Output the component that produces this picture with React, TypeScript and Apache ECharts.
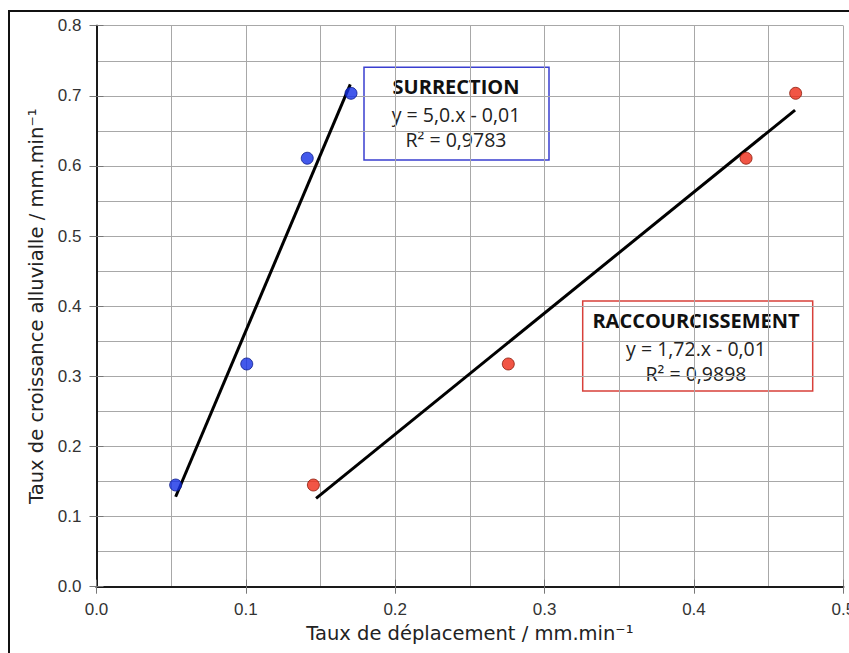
import React, { useEffect, useRef } from "react";
import * as echarts from "echarts";

const xTickLabels = ["0.0", "0.1", "0.2", "0.3", "0.4", "0.5"];
const yTickLabels = ["0.0", "0.1", "0.2", "0.3", "0.4", "0.5", "0.6", "0.7", "0.8"];

const surrectionX = [0.053, 0.1006, 0.1411, 0.1704];
const surrectionY = [0.145, 0.3176, 0.611, 0.7036];
const surrectionFitX = [0.053, 0.1699];
const surrectionFitY = [0.1283, 0.7164];

const raccourX = [0.1452, 0.2757, 0.4349, 0.4681];
const raccourY = [0.145, 0.3176, 0.611, 0.7036];
const raccourFitX = [0.147, 0.4677];
const raccourFitY = [0.126, 0.6797];

const surrectionText = ["SURRECTION", "y = 5,0.x - 0,01", "R² = 0,9783"];
const raccourText = ["RACCOURCISSEMENT", "y = 1,72.x - 0,01", "R² = 0,9898"];

const xTitle = "Taux de déplacement / mm.min⁻¹";
const yTitle = "Taux de croissance alluvialle / mm.min⁻¹";

const zip = (a: number[], b: number[]) => a.map((v, i) => [v, b[i]]);

export default function App() {
  const ref = useRef<HTMLDivElement>(null);
  useEffect(() => {
    if (!ref.current) return;
    const chart = echarts.init(ref.current, null, { renderer: "svg" });
    const tickFont = "Liberation Sans, Arial, sans-serif";
    const titleFont = "DejaVu Sans, sans-serif";
    const boxFont = "Open Sans, sans-serif";
    const gridLine = { color: "#a8a8a8", width: 1 };
    const frame = { color: "#1a1a1a", width: 2 };
    const baseX = {
      type: "value",
      min: 0,
      max: 0.5,
      interval: 0.1,
    };
    const baseY = {
      type: "value",
      min: 0,
      max: 0.8,
      interval: 0.1,
    };
    const makeBox = (
      x: number,
      y: number,
      w: number,
      h: number,
      color: string,
      lines: string[],
      cx: number
    ) => ({
      type: "group",
      z: 100,
      children: [
        {
          type: "rect",
          shape: { x, y, width: w, height: h },
          style: { fill: "#fff", stroke: color, lineWidth: 1.5 },
        },
        {
          type: "text",
          x: cx,
          y: y + 19,
          style: {
            text: lines[0],
            font: "bold 20px " + boxFont,
            fill: "#111",
            align: "center",
            verticalAlign: "middle",
          },
        },
        {
          type: "text",
          x: cx,
          y: y + 47,
          style: {
            text: lines[1],
            font: "19.5px " + boxFont,
            fill: "#222",
            align: "center",
            verticalAlign: "middle",
          },
        },
        {
          type: "text",
          x: cx,
          y: y + 72,
          style: {
            text: lines[2],
            font: "19.5px " + boxFont,
            fill: "#222",
            align: "center",
            verticalAlign: "middle",
          },
        },
      ],
    });
    chart.setOption({
      animation: false,
      backgroundColor: "#fff",
      grid: {
        left: 96.5,
        top: 25.7,
        width: 746.8,
        height: 561,
        containLabel: false,
        outerBoundsMode: "none",
      },
      xAxis: [
        {
          ...baseX,
          position: "bottom",
          name: xTitle,
          nameLocation: "middle",
          nameGap: 37,
          nameTextStyle: { fontFamily: titleFont, fontSize: 19.5, color: "#222" },
          axisLine: { show: true, lineStyle: frame },
          axisTick: { show: true, inside: false, length: 7, lineStyle: { color: "#777" } },
          axisLabel: {
            show: true,
            margin: 14,
            fontFamily: tickFont,
            fontSize: 17,
            color: "#333",
            formatter: (v: number) => xTickLabels[Math.round(v * 10)],
          },
          splitLine: { show: true, lineStyle: gridLine },
          minorTick: { show: false, splitNumber: 2 },
          minorSplitLine: { show: true, lineStyle: gridLine },
        },
        {
          ...baseX,
          position: "top",
          axisLine: { show: true, lineStyle: frame },
          axisTick: { show: true, inside: false, length: 7, lineStyle: { color: "#777" } },
          axisLabel: { show: false },
          splitLine: { show: false },
        },
      ],
      yAxis: [
        {
          ...baseY,
          position: "left",
          name: yTitle,
          nameLocation: "middle",
          nameGap: 50,
          nameTextStyle: { fontFamily: titleFont, fontSize: 19.5, color: "#222" },
          axisLine: { show: true, lineStyle: frame },
          axisTick: { show: true, inside: false, length: 7, lineStyle: { color: "#777" } },
          axisLabel: {
            show: true,
            margin: 15,
            fontFamily: tickFont,
            fontSize: 17,
            color: "#333",
            formatter: (v: number) => yTickLabels[Math.round(v * 10)],
          },
          splitLine: { show: true, lineStyle: gridLine },
          minorTick: { show: false, splitNumber: 2 },
          minorSplitLine: { show: true, lineStyle: gridLine },
        },
        {
          ...baseY,
          position: "right",
          axisLine: { show: true, lineStyle: frame },
          axisTick: { show: true, inside: false, length: 7, lineStyle: { color: "#777" } },
          axisLabel: { show: false },
          splitLine: { show: false },
        },
      ],
      series: [
        {
          type: "line",
          data: zip(surrectionFitX, surrectionFitY),
          symbol: "none",
          lineStyle: { color: "#000", width: 3 },
          z: 3,
        },
        {
          type: "line",
          data: zip(raccourFitX, raccourFitY),
          symbol: "none",
          lineStyle: { color: "#000", width: 3 },
          z: 3,
        },
        {
          type: "scatter",
          data: zip(surrectionX, surrectionY),
          symbol: "circle",
          symbolSize: 12,
          itemStyle: { color: "#1430e6", borderColor: "#0a1a8a", borderWidth: 1 },
          z: 5,
        },
        {
          type: "scatter",
          data: zip(raccourX, raccourY),
          symbol: "circle",
          symbolSize: 12,
          itemStyle: { color: "#ee2a16", borderColor: "#8a1a0a", borderWidth: 1 },
          z: 5,
        },
      ],
      graphic: [
        {
          type: "rect",
          z: -10,
          silent: true,
          shape: { x: 9, y: 11, width: 900, height: 700 },
          style: { fill: "none", stroke: "#111", lineWidth: 2 },
        },
        makeBox(364, 67.3, 185, 92.7, "#3a3fd0", surrectionText, 456),
        makeBox(582.7, 301, 230, 90, "#d8403a", raccourText, 696),
      ],
    });
    return () => chart.dispose();
  }, []);
  return (
    <div
      ref={ref}
      style={{ position: "fixed", left: 0, top: 0, width: 849, height: 653 }}
    />
  );
}
